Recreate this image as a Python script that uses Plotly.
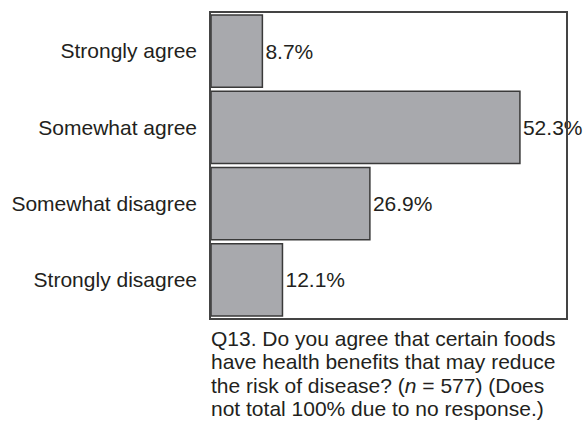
import plotly.graph_objects as go

categories = ["Strongly agree", "Somewhat agree", "Somewhat disagree", "Strongly disagree"]
values = [8.7, 52.3, 26.9, 12.1]
labels = ["8.7%", "52.3%", "26.9%", "12.1%"]
caption_lines = [
    "Q13. Do you agree that certain foods",
    "have health benefits that may reduce",
    "the risk of disease? (<i>n</i> = 577) (Does",
    "not total 100% due to no response.)",
]

FONT = "Liberation Sans, Arial, Helvetica, sans-serif"
TXT = "#231f20"

fig = go.Figure(go.Bar(
    x=values, y=categories, orientation="h",
    text=labels, textposition="outside", cliponaxis=False,
    constraintext="none",
    textfont=dict(family=FONT, size=21, color=TXT),
    marker=dict(color="#a8a9ad", line=dict(color="#3a3a3a", width=1.5)),
))

for i, line in enumerate(caption_lines):
    fig.add_annotation(
        text=line, xref="paper", yref="paper", x=0, y=0,
        xanchor="left", yanchor="top", showarrow=False, align="left",
        xshift=-2, yshift=-7 - 23.3 * i,
        font=dict(family=FONT, size=21, color=TXT),
    )

fig.update_layout(
    width=587, height=422,
    margin=dict(l=211, r=21, t=11, b=104),
    paper_bgcolor="white", plot_bgcolor="white",
    bargap=0.05, showlegend=False,
    font=dict(family=FONT, size=21, color=TXT),
)
fig.update_xaxes(range=[0, 60.1], showticklabels=False, showgrid=False,
                 zeroline=False, showline=True, mirror=True,
                 linecolor="#444444", linewidth=1.5, ticks="")
fig.update_yaxes(autorange="reversed", showgrid=False, zeroline=False,
                 showline=True, mirror=True, linecolor="#444444", linewidth=1.5,
                 ticks="", ticklabelstandoff=8,
                 tickfont=dict(family=FONT, size=21, color=TXT))

fig.write_html("out.html", config={"displayModeBar": False},
               post_script="document.body.style.margin='0';document.body.style.overflow='hidden';")
